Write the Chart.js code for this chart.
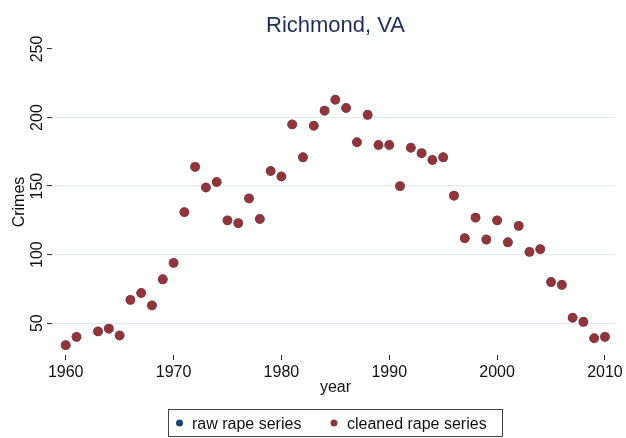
<!DOCTYPE html>
<html>
<head>
<meta charset="utf-8">
<script src="https://cdn.jsdelivr.net/npm/chart.js@4/dist/chart.umd.min.js"></script>
<style>
  html, body { margin: 0; padding: 0; background: #fff; }
  #wrap { width: 626px; height: 438px; }
</style>
</head>
<body>
<div id="wrap"><canvas id="myChart"></canvas></div>
<script>
const years = [1960, 1961, 1963, 1964, 1965, 1966, 1967, 1968, 1969, 1970,
    1971, 1972, 1973, 1974, 1975, 1976, 1977, 1978, 1979, 1980,
    1981, 1982, 1983, 1984, 1985, 1986, 1987, 1988, 1989, 1990,
    1991, 1992, 1993, 1994, 1995, 1996, 1997, 1998, 1999, 2000,
    2001, 2002, 2003, 2004, 2005, 2006, 2007, 2008, 2009, 2010];
const rawCrimes = [34, 40, 44, 46, 41, 67, 72, 63, 82, 94,
    131, 164, 149, 153, 125, 123, 141, 126, 161, 157,
    195, 171, 194, 205, 213, 207, 182, 202, 180, 180,
    150, 178, 174, 169, 171, 143, 112, 127, 111, 125,
    109, 121, 102, 104, 80, 78, 54, 51, 39, 40];
const cleanedCrimes = [34, 40, 44, 46, 41, 67, 72, 63, 82, 94,
    131, 164, 149, 153, 125, 123, 141, 126, 161, 157,
    195, 171, 194, 205, 213, 207, 182, 202, 180, 180,
    150, 178, 174, 169, 171, 143, 112, 127, 111, 125,
    109, 121, 102, 104, 80, 78, 54, 51, 39, 40];
const xTicks = [1960, 1970, 1980, 1990, 2000, 2010];
const yTicks = [50, 100, 150, 200, 250];
const seriesNames = ['raw rape series', 'cleaned rape series'];

const navy = '#1a476f';
const maroon = '#90353b';
const FONT = '"Liberation Sans", Arial, Helvetica, sans-serif';

const toPoints = (vals) => years.map((y, i) => ({ x: y, y: vals[i] }));

// title, rotated y labels, axis titles and the boxed legend, Stata style
const extras = {
    id: 'extras',
    afterDraw(chart) {
        const ctx = chart.ctx;
        const area = chart.chartArea;
        const yScale = chart.scales.y;
        const midX = (area.left + area.right) / 2;
        ctx.save();
        ctx.fillStyle = '#1c2f5c';
        ctx.font = '22px ' + FONT;
        ctx.textAlign = 'center';
        ctx.textBaseline = 'alphabetic';
        ctx.fillText('Richmond, VA', midX + 2, 32);

        ctx.fillStyle = '#111';
        ctx.font = '16px ' + FONT;
        yTicks.forEach(v => {
            const py = yScale.getPixelForValue(v);
            ctx.save();
            ctx.translate(42, py);
            ctx.rotate(-Math.PI / 2);
            ctx.fillText(String(v), 0, 0);
            ctx.restore();
        });
        ctx.save();
        ctx.translate(23.5, (area.top + area.bottom) / 2);
        ctx.rotate(-Math.PI / 2);
        ctx.fillText('Crimes', 0, 0);
        ctx.restore();

        ctx.fillText('year', midX + 2, 392);

        // legend
        ctx.strokeStyle = '#444';
        ctx.lineWidth = 1;
        ctx.strokeRect(168.5, 409.5, 334, 27);
        ctx.textAlign = 'left';
        ctx.fillStyle = navy;
        ctx.beginPath();
        ctx.arc(179.5, 423, 3.5, 0, Math.PI * 2);
        ctx.fill();
        ctx.fillStyle = maroon;
        ctx.beginPath();
        ctx.arc(334, 423, 3.5, 0, Math.PI * 2);
        ctx.fill();
        ctx.fillStyle = '#111';
        ctx.fillText(seriesNames[0], 192, 428.5);
        ctx.fillText(seriesNames[1], 347, 428.5);
        ctx.restore();
    }
};

const ctx = document.getElementById('myChart').getContext('2d');

const myChart = new Chart(ctx, {
    type: 'scatter',
    data: {
        datasets: [{
            label: seriesNames[0],
            data: toPoints(rawCrimes),
            backgroundColor: navy,
            borderColor: navy,
            pointRadius: 4.7,
            borderWidth: 0,
            order: 2
        }, {
            label: seriesNames[1],
            data: toPoints(cleanedCrimes),
            backgroundColor: maroon,
            borderColor: 'rgba(144,53,59,0.6)',
            pointRadius: 4.7,
            borderWidth: 0.5,
            order: 1
        }]
    },
    options: {
        responsive: true,
        maintainAspectRatio: false,
        animation: false,
        layout: {
            padding: { top: 49, right: 11, left: 0, bottom: 0 }
        },
        plugins: {
            legend: { display: false },
            title: { display: false },
            tooltip: { enabled: false }
        },
        scales: {
            x: {
                type: 'linear',
                min: 1958.73,
                max: 2010.93,
                afterBuildTicks: (scale) => { scale.ticks = xTicks.map(v => ({ value: v })); },
                afterFit: (scale) => { scale.height = 83; },
                border: { display: false },
                grid: {
                    drawOnChartArea: false,
                    drawTicks: true,
                    tickLength: 5,
                    tickColor: '#222',
                    tickWidth: 1
                },
                ticks: {
                    color: '#111',
                    padding: 3,
                    maxRotation: 0,
                    font: { family: FONT, size: 16 },
                    callback: (v) => String(v)
                }
            },
            y: {
                type: 'linear',
                min: 26.8,
                max: 250,
                afterBuildTicks: (scale) => { scale.ticks = yTicks.map(v => ({ value: v })); },
                afterFit: (scale) => { scale.width = 52; },
                border: { display: false },
                grid: {
                    color: (c) => (c.tick && c.tick.value === 250) ? 'rgba(0,0,0,0)' : '#e2eaee',
                    lineWidth: 1.2,
                    drawTicks: true,
                    tickLength: 5,
                    tickColor: '#222',
                    tickWidth: 1
                },
                ticks: {
                    display: false
                }
            }
        }
    },
    plugins: [extras]
});
</script>
</body>
</html>
